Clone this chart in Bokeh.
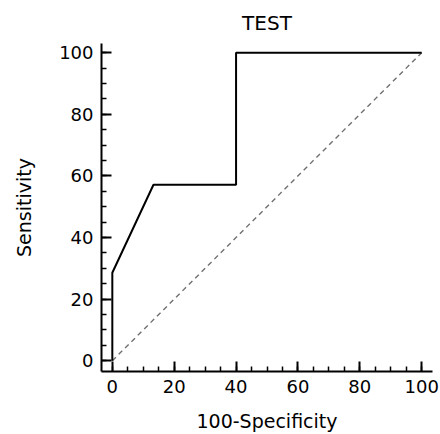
from bokeh.plotting import figure
from bokeh.models import Range1d, SingleIntervalTicker
from bokeh.embed import file_html
from bokeh.resources import INLINE

# ROC curve points (100-Specificity, Sensitivity)
fpr = [0, 0, 13.3, 40, 40, 100]
tpr = [0, 28.57, 57.14, 57.14, 100, 100]
# reference diagonal
diag_x = [0, 100]
diag_y = [0, 100]

FONT = "DejaVu Sans"

p = figure(width=440, height=434, output_backend="svg", toolbar_location=None,
           x_range=Range1d(-3.5, 103.5), y_range=Range1d(-3.5, 103),
           min_border_left=101, min_border_right=8, min_border_top=42, min_border_bottom=62,
           title="TEST")
p.outline_line_color = None
p.xgrid.visible = False
p.ygrid.visible = False
p.background_fill_color = "white"
p.border_fill_color = "white"

p.title.text_font = FONT
p.title.text_font_size = "20px"
p.title.text_font_style = "normal"
p.title.align = "center"
p.title.text_color = "black"
p.title.standoff = 17

for ax, lab in ((p.xaxis[0], "100-Specificity"), (p.yaxis[0], "Sensitivity")):
    ax.ticker = SingleIntervalTicker(interval=20, num_minor_ticks=4)
    ax.axis_label = lab
    ax.axis_label_text_font = FONT
    ax.axis_label_text_font_size = "19px"
    ax.axis_label_text_font_style = "normal"
    ax.axis_label_text_color = "black"
    ax.major_label_text_font = FONT
    ax.major_label_text_font_size = "18px"
    ax.major_label_text_color = "black"
    ax.axis_line_width = 2
    ax.axis_line_color = "black"
    ax.major_tick_line_width = 2
    ax.minor_tick_line_width = 1.5
    ax.major_tick_in = 10
    ax.major_tick_out = 0
    ax.minor_tick_in = 5
    ax.minor_tick_out = 0
    ax.major_label_standoff = 8

p.yaxis[0].axis_label_standoff = 21
p.xaxis[0].axis_label_standoff = 14

p.line(diag_x, diag_y, line_color="#707070", line_width=1.4, line_dash="5 4")
p.line(fpr, tpr, line_color="black", line_width=2)

open("out.html", "w").write(file_html(p, INLINE))
